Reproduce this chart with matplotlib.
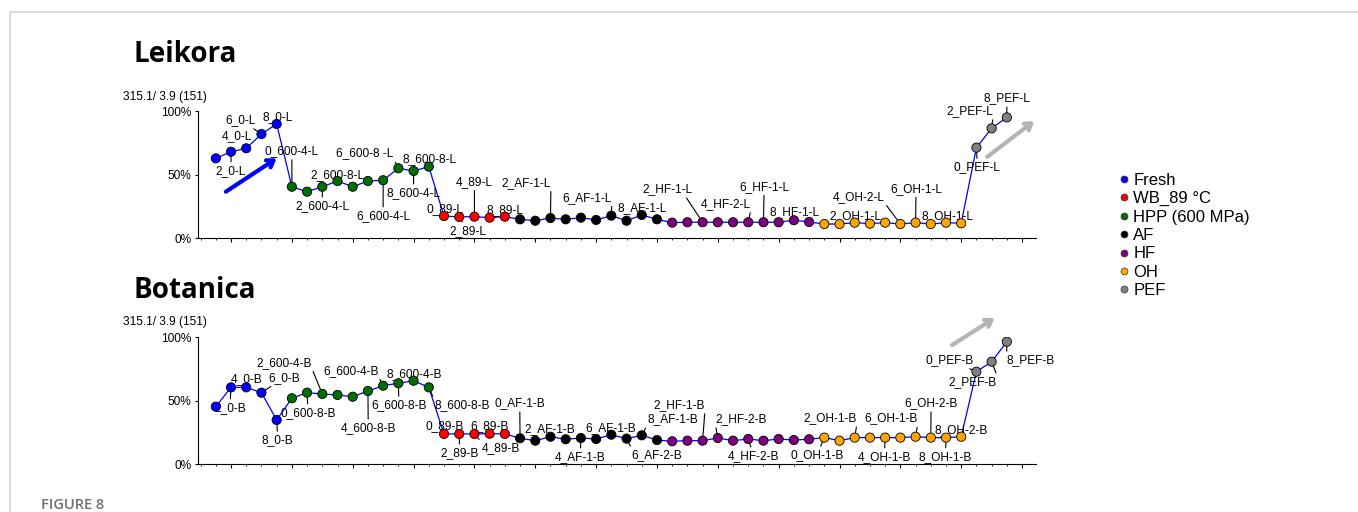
import matplotlib
matplotlib.use('Agg')
import matplotlib.pyplot as plt
from matplotlib.lines import Line2D

plt.rcParams['font.family'] = ['Liberation Sans', 'DejaVu Sans']

# legend order of the treatment groups
groups = ['Fresh', 'WB_89 °C', 'HPP (600 MPa)', 'AF', 'HF', 'OH', 'PEF']
group_colors = {'Fresh': '#0000ff', 'WB_89 °C': '#ff0000', 'HPP (600 MPa)': '#006e00',
                'AF': '#000000', 'HF': '#7f007f', 'OH': '#ffa500', 'PEF': '#808080'}

# group of each sample along the x axis
sample_groups = (['Fresh'] * 5 + ['HPP (600 MPa)'] * 10 + ['WB_89 °C'] * 5 + ['AF'] * 10
                 + ['HF'] * 10 + ['OH'] * 10 + ['PEF'] * 3)

# relative intensity of 315.1/3.9 (151), %
leikora = [62.8, 68.0, 70.7, 81.9, 89.8,
           40.5, 36.6, 40.5, 45.0, 40.5, 45.0, 45.6, 55.0, 52.9, 56.3,
           17.5, 16.8, 17.0, 16.2, 17.0,
           14.9, 13.8, 15.9, 14.9, 16.2, 14.4, 17.8, 13.8, 18.3, 14.9,
           12.3, 12.6, 12.6, 12.6, 12.6, 12.6, 12.6, 12.6, 14.2, 12.8,
           11.2, 11.2, 12.3, 11.5, 12.3, 11.2, 12.3, 11.2, 12.3, 11.8,
           71.2, 86.4, 95.0]
botanica = [45.4, 60.6, 60.6, 56.4, 34.9,
            52.0, 56.4, 55.4, 54.6, 53.2, 57.7, 61.9, 63.8, 65.8, 60.6,
            23.9, 23.9, 23.9, 24.1, 23.9,
            20.5, 18.6, 21.7, 19.7, 20.7, 19.9, 23.3, 20.2, 22.8, 19.1,
            18.1, 18.6, 18.6, 20.7, 18.6, 19.9, 18.6, 19.9, 19.1, 19.7,
            21.0, 18.6, 21.0, 21.0, 21.0, 21.0, 21.7, 21.0, 21.0, 21.7,
            72.9, 80.8, 96.5]

leikora_labels = [(1, '2_0-L'), (2, '4_0-L'), (3, '6_0-L'), (4, '8_0-L'), (5, '0_600-4-L'),
                  (7, '2_600-4-L'), (8, '2_600-8-L'), (11, '6_600-4-L'), (12, '6_600-8 -L'),
                  (13, '8_600-4-L'), (14, '8_600-8-L'), (15, '0_89-L'), (16, '2_89-L'),
                  (17, '4_89-L'), (19, '8_89-L'), (22, '2_AF-1-L'), (26, '6_AF-1-L'),
                  (28, '8_AF-1-L'), (32, '2_HF-1-L'), (35, '4_HF-2-L'), (36, '6_HF-1-L'),
                  (38, '8_HF-1-L'), (42, '2_OH-1-L'), (45, '4_OH-2-L'), (46, '6_OH-1-L'),
                  (48, '8_OH-1-L'), (50, '0_PEF-L'), (51, '2_PEF-L'), (52, '8_PEF-L')]
botanica_labels = [(1, '2_0-B'), (2, '4_0-B'), (3, '6_0-B'), (4, '8_0-B'), (6, '0_600-8-B'),
                   (7, '2_600-4-B'), (10, '4_600-8-B'), (11, '6_600-4-B'), (12, '6_600-8-B'),
                   (13, '8_600-4-B'), (14, '8_600-8-B'), (15, '0_89-B'), (16, '2_89-B'),
                   (17, '4_89-B'), (18, '6_89-B'), (20, '0_AF-1-B'), (22, '2_AF-1-B'),
                   (24, '4_AF-1-B'), (26, '6_AF-1-B'), (27, '6_AF-2-B'), (28, '8_AF-1-B'),
                   (32, '2_HF-1-B'), (33, '2_HF-2-B'), (35, '4_HF-2-B'), (40, '0_OH-1-B'),
                   (42, '2_OH-1-B'), (44, '4_OH-1-B'), (46, '6_OH-1-B'), (47, '6_OH-2-B'),
                   (48, '8_OH-1-B'), (49, '8_OH-2-B'), (50, '0_PEF-B'), (51, '2_PEF-B'),
                   (52, '8_PEF-B')]

# label placement: pixel offset from the point and where the leader leaves the text
C = (0.5, 0.5)
leikora_offsets = [(0, -19, C), (-9.5, 12.6, C), (-20.7, 14, C), (0.6, 7.3, C), (0, 35.7, C),
                   (0, -19, C), (0, 6, C), (0, -35.4, C), (-33.2, 15, (1, 0)),
                   (0, -21.7, C), (0.6, 7.7, C), (0.6, 6.7, C), (8.9, -13.7, C),
                   (0, 35, C), (0, 6.7, C), (-24.3, 35.3, (1, 0)), (-24.2, 18, (1, 0)),
                   (0, 7.3, C), (-35.4, 33, (0.85, 0)), (-22.5, 18.3, (1, 0)), (0.7, 35.6, C),
                   (0.3, 8, C), (0.4, 7, C), (-41.9, 27.3, (1, 0)), (0.5, 34, C),
                   (1.3, 6.7, C), (1, -19.6, C), (-22, 17.3, (1, 0)), (0, 19, C)]
botanica_offsets = [(-1.2, -20.4, C), (0.8, 8, C), (22.8, 15, C), (1.2, -20, C), (0.9, -20, C),
                    (-38.1, 31.3, (1, 0)), (0.3, -36.7, C), (-32.4, 15, (1, 0)), (0.7, -21.7, C),
                    (0.5, 6.4, C), (33, -17.7, (0, 1)), (0.5, 8, C), (0.4, -18.7, C),
                    (26.2, -14.3, (0, 1)), (0.1, 7.7, C), (-0.3, 35, C), (-1, 7.4, C),
                    (-0.7, -18.7, C), (-0.4, 6.4, C), (30.6, -16.3, (0, 1)), (30.7, 16, (0, 0)),
                    (-23.4, 35.7, (1, 0)), (23.4, 19, (0, 0)), (5.5, -16.7, C), (-7.4, -17.3, C),
                    (-24.6, 19.4, (1, 0)), (-0.8, -19, C), (-24.6, 18.4, (1, 0)), (0.3, 34.4, C),
                    (-0.5, -19, C), (-0.5, 6.7, C), (-26.4, 11.7, C), (-18.7, -20, (1, 1)),
                    (24, -18.3, (0, 1))]


def draw_panel(ax, values, labels, offsets):
    x = list(range(len(values)))
    ax.plot(x, values, color='#0000ff', lw=0.9, zorder=2)
    ax.scatter(x, values, s=44, c=[group_colors[g] for g in sample_groups],
               edgecolors='black', linewidths=0.6, zorder=4)
    for (i, text), (dx, dy, rel) in zip(labels, offsets):
        props = None
        if abs(dx) > 10 or abs(dy) > 10:
            props = dict(arrowstyle='-', color='black', lw=0.8, shrinkA=0, shrinkB=3, relpos=rel)
        ax.annotate(text, xy=(i, values[i]), xytext=(dx, dy), textcoords='offset pixels',
                    ha='center', va='center', fontsize=8.6, arrowprops=props,
                    zorder=3, annotation_clip=False)

    ax.set_xlim(-1.18, 53.9)
    ax.set_ylim(0, 100)
    ax.set_xticks(range(1, 54, 4))
    ax.set_xticks(range(-1, 54), minor=True)
    ax.set_xticklabels([])
    ax.set_yticks([0, 50, 100])
    ax.set_yticklabels(['0%', '50%', '100%'], fontsize=8.6)
    ax.tick_params(axis='x', which='major', length=3, width=0.8)
    ax.tick_params(axis='x', which='minor', length=1.5, width=0.6)
    ax.tick_params(axis='y', length=2.5, width=0.8, pad=2)
    for s in ['top', 'right']:
        ax.spines[s].set_visible(False)
    for s in ['left', 'bottom']:
        ax.spines[s].set_linewidth(0.8)
    ax.patch.set_visible(False)


def big_arrow(ax, start, end, color):
    ax.annotate('', xy=end, xytext=start, annotation_clip=False,
                arrowprops=dict(arrowstyle='->,head_length=0.45,head_width=0.3',
                                color=color, lw=3, shrinkA=0, shrinkB=0))


fig = plt.figure(figsize=(13.58, 5.12), dpi=100)
ax1 = fig.add_axes([0.1457, 0.5346, 0.6170, 0.2486])
ax2 = fig.add_axes([0.1457, 0.0932, 0.6170, 0.2480])

draw_panel(ax1, leikora, leikora_labels, leikora_offsets)
draw_panel(ax2, botanica, botanica_labels, botanica_offsets)

big_arrow(ax1, (0.66, 36.6), (4.0, 62.8), '#0000ff')
big_arrow(ax1, (50.7, 63.9), (53.8, 92.1), '#b4b4b4')
big_arrow(ax2, (48.4, 93.9), (51.2, 115.2), '#b4b4b4')

fig.text(133 / 1358, 1 - 55 / 512, 'Leikora', fontsize=20, fontweight='bold',
         family='Open Sans', va='center', ha='left')
fig.text(133 / 1358, 1 - 291 / 512, 'Botanica', fontsize=20, fontweight='bold',
         family='Open Sans', va='center', ha='left')
fig.text(123 / 1358, 1 - 97 / 512, '315.1/ 3.9 (151)', fontsize=8.6, va='center', ha='left')
fig.text(123 / 1358, 1 - 322 / 512, '315.1/ 3.9 (151)', fontsize=8.6, va='center', ha='left')
fig.text(41 / 1358, 1 - 505 / 512, 'FIGURE 8', fontsize=10.5, fontweight='semibold',
         family='Open Sans', color='#707070', va='center', ha='left')

# thin page frame
fig.add_artist(Line2D([10 / 1358, 1], [1 - 12 / 512] * 2, transform=fig.transFigure,
                      color='#d3d3d3', lw=1.2))
fig.add_artist(Line2D([10 / 1358] * 2, [0, 1 - 12 / 512], transform=fig.transFigure,
                      color='#d3d3d3', lw=1.2))

handles = [Line2D([], [], marker='o', ls='none', markersize=5, markerfacecolor=group_colors[g],
                  markeredgecolor='#333333', markeredgewidth=0.5) for g in groups]
fig.legend(handles, groups, loc='upper left', bbox_to_anchor=(1120 / 1358, 1 - 173 / 512),
           frameon=False, fontsize=12, handlelength=0.5, handletextpad=0.3,
           labelspacing=0.2, borderpad=0, borderaxespad=0)

fig.savefig('out.png', dpi=100)
